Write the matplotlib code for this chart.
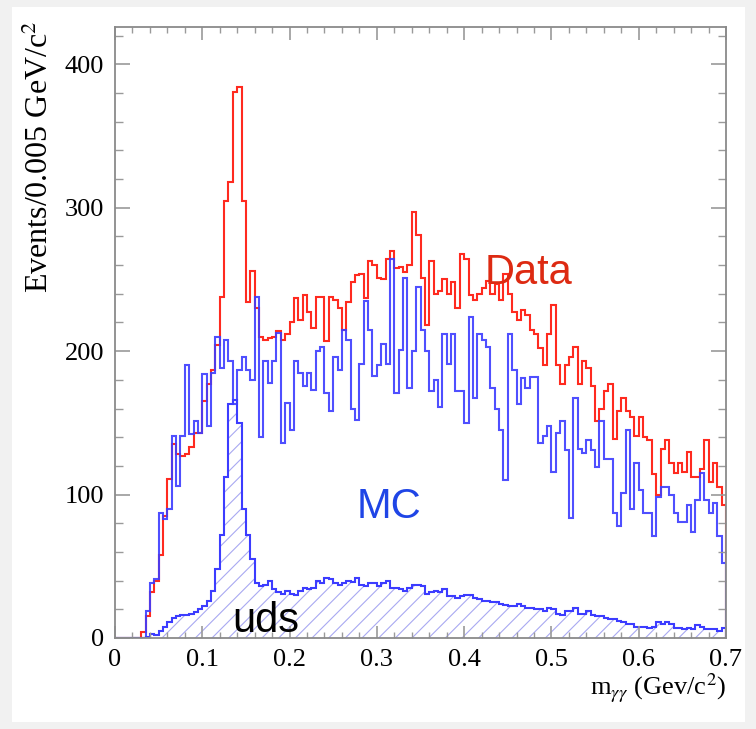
import numpy as np
import matplotlib.pyplot as plt
from matplotlib.patches import Rectangle
from matplotlib.ticker import MultipleLocator

# 140 bins of 0.005 GeV/c^2 between 0 and 0.7
edges = np.linspace(0.0, 0.7, 141)

data_counts = [
    0, 0, 0, 0, 0, 0, 4, 15, 32, 40,
    58, 85, 111, 135, 128, 127, 128, 133, 143, 143,
    165, 177, 187, 204, 238, 305, 318, 381, 384, 305,
    234, 256, 230, 210, 208, 209, 210, 214, 208, 212,
    220, 237, 222, 239, 227, 216, 238, 238, 207, 238,
    236, 230, 215, 234, 248, 253, 254, 237, 263, 260,
    251, 250, 264, 270, 258, 259, 255, 260, 297, 281,
    251, 218, 263, 240, 242, 250, 240, 248, 230, 268,
    264, 239, 236, 240, 244, 249, 240, 247, 236, 254,
    240, 227, 222, 229, 225, 215, 212, 202, 190, 212,
    232, 190, 177, 190, 196, 203, 177, 193, 188, 176,
    151, 160, 172, 177, 139, 158, 167, 158, 154, 141,
    154, 140, 138, 114, 100, 132, 138, 122, 115, 122,
    116, 130, 112, 112, 118, 138, 109, 122, 105, 93,
]

mc_counts = [
    0, 0, 0, 0, 0, 0, 0, 19, 38, 41,
    87, 83, 90, 141, 106, 141, 190, 142, 151, 143,
    184, 148, 185, 210, 188, 208, 193, 163, 187, 196,
    187, 180, 238, 140, 193, 178, 193, 213, 136, 164,
    145, 193, 185, 176, 185, 173, 200, 203, 171, 158,
    196, 187, 215, 208, 160, 152, 191, 235, 215, 183,
    190, 205, 191, 264, 171, 201, 251, 174, 200, 245,
    215, 200, 172, 180, 161, 212, 191, 212, 172, 172,
    150, 224, 167, 212, 208, 203, 174, 160, 145, 110,
    212, 187, 163, 181, 174, 182, 182, 136, 141, 148,
    116, 143, 151, 131, 84, 167, 132, 129, 138, 131,
    119, 151, 125, 125, 87, 78, 101, 145, 90, 122,
    103, 87, 87, 71, 98, 105, 105, 100, 87, 81,
    81, 93, 74, 96, 115, 96, 87, 94, 71, 52,
]

uds_counts = [
    0, 0, 0, 0, 0, 0, 0, 1, 3, 2,
    5, 8, 11, 14, 15, 16, 16, 17, 18, 20,
    22, 26, 33, 48, 72, 112, 163, 166, 150, 90,
    72, 55, 38, 36, 37, 40, 34, 32, 31, 33,
    31, 30, 33, 35, 34, 35, 40, 38, 42, 41,
    38, 37, 38, 40, 39, 42, 37, 36, 38, 38,
    36, 38, 40, 35, 35, 34, 33, 35, 37, 37,
    36, 31, 32, 33, 32, 34, 29, 29, 28, 29,
    30, 30, 28, 27, 26, 26, 25, 25, 24, 23,
    22, 22, 24, 22, 21, 21, 20, 20, 19, 21,
    20, 17, 16, 19, 19, 21, 17, 17, 19, 16,
    15, 15, 14, 13, 13, 12, 11, 10, 10, 8,
    8, 8, 7, 8, 11, 10, 11, 10, 7, 7,
    6, 7, 6, 9, 8, 6, 6, 6, 5, 7,
]

x_ticks = [0.0, 0.1, 0.2, 0.3, 0.4, 0.5, 0.6, 0.7]
x_tick_labels = ["0", "0.1", "0.2", "0.3", "0.4", "0.5", "0.6", "0.7"]
y_ticks = [0, 100, 200, 300, 400]
y_tick_labels = ["0", "100", "200", "300", "400"]

plt.rcParams["font.family"] = ["Liberation Serif", "DejaVu Serif"]
plt.rcParams["mathtext.fontset"] = "stix"
plt.rcParams["hatch.linewidth"] = 0.8

W, H = 756, 729
fig = plt.figure(figsize=(W / 100, H / 100), dpi=100)
fig.patch.set_facecolor("#f1f1f1")
fig.add_artist(Rectangle((12 / W, 1 - 722 / H), 733 / W, 715 / H,
                         transform=fig.transFigure, facecolor="white",
                         edgecolor="none", zorder=0))

ax = fig.add_axes([115 / W, 1 - 638 / H, 611 / W, 611 / H])
ax.set_xlim(0, 0.7)
ax.set_ylim(0, 426)

# uds: hatched area plus its outline
ax.stairs(uds_counts, edges, fill=True, facecolor="none",
          edgecolor="#a9a9f2", hatch="//", linewidth=0)
ax.stairs(data_counts, edges, color="#ff2a1f", linewidth=1.5, baseline=0)
ax.stairs(mc_counts, edges, color="#3c3cff", linewidth=1.5, baseline=0, alpha=0.9)
ax.stairs(uds_counts, edges, color="#3c3cff", linewidth=1.5, baseline=0)

ax.text(0.424, 247, "Data", color="#dd2a12", fontsize=30, family="Liberation Sans")
ax.text(0.277, 84, "MC", color="#1f45e6", fontsize=30, family="Liberation Sans")
ax.text(0.134, 4, "uds", color="black", fontsize=30, family="Liberation Sans")

ax.set_xticks(x_ticks, labels=x_tick_labels)
ax.set_yticks(y_ticks, labels=y_tick_labels)
ax.xaxis.set_minor_locator(MultipleLocator(0.02))
ax.yaxis.set_minor_locator(MultipleLocator(20))
ax.tick_params(which="both", direction="in", top=True, right=True,
               color="#9a9a9a", labelsize=19, labelcolor="black")
ax.tick_params(axis="y", which="major", length=11, width=1.2, pad=8)
ax.tick_params(axis="y", which="minor", length=5.5, width=1.0)
ax.tick_params(axis="x", which="major", length=9, width=1.2, pad=8)
ax.tick_params(axis="x", which="minor", length=4.5, width=1.0)
for s in ax.spines.values():
    s.set_color("#8a8a8a")
    s.set_linewidth(1.3)

ax.set_ylabel("Events/0.005 GeV/c$^2$", fontsize=23, loc="top")
ax.yaxis.set_label_coords(-0.098, 1.01)
ax.set_xlabel(r"m$_{\gamma\gamma}$ (Gev/c$^2$)", fontsize=19, loc="right")
ax.xaxis.set_label_coords(1.0, -0.055)
ax.xaxis.label.set_va("top")

fig.savefig("out.png", dpi=100, facecolor=fig.get_facecolor())
